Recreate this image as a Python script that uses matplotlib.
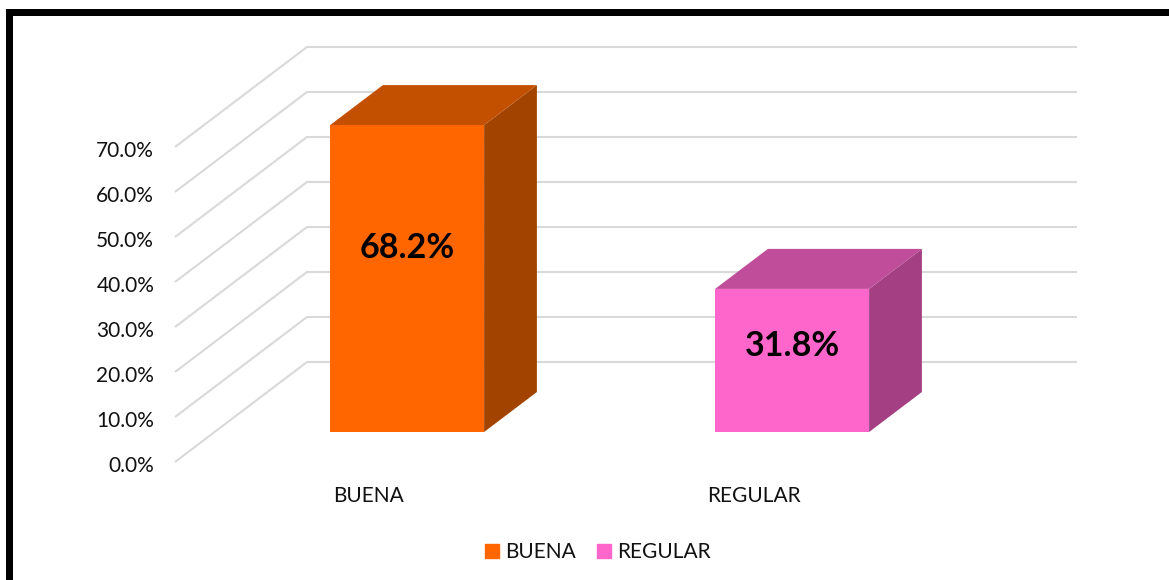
import matplotlib
matplotlib.use("Agg")
import matplotlib.pyplot as plt
from matplotlib.patches import Patch, Rectangle
from matplotlib.transforms import ScaledTranslation

categories = ["BUENA", "REGULAR"]
values = [68.2, 31.8]
labels = ["68.2%", "31.8%"]
yticks = [0, 10, 20, 30, 40, 50, 60, 70]
face_colors = ["#FF6600", "#FF66CC"]
top_colors = ["#C25000", "#BF4D99"]
side_colors = ["#A34300", "#A33F82"]

W, H = 1169, 580
plt.rcParams["font.family"] = ["Lato", "DejaVu Sans"]
fig = plt.figure(figsize=(W / 100, H / 100), dpi=100)
ax = fig.add_axes([175 / W, (H - 462) / H, 770 / W, 315 / H])
ax.set_xlim(0, 2)
ax.set_ylim(0, 70)
ax.patch.set_visible(False)
for s in ax.spines.values():
    s.set_visible(False)

# oblique projection: full depth = 132 px right, 100 px up
DX = 132 / 385
DY = 100 / 4.5


def P(x, y, d):
    return x + d * DX, y + d * DY


grid = "#D9D9D9"
for t in yticks:
    a, b, c = P(0, t, 0), P(0, t, 1), P(2, t, 1)
    ax.plot([a[0], b[0], c[0]], [a[1], b[1], c[1]], color=grid, lw=1.5,
            clip_on=False, zorder=1, solid_joinstyle="miter", solid_capstyle="butt")

bw = 0.4
d0, d1 = 0.3, 0.7
for i, v in enumerate(values):
    xl, xr = i + 0.5 - bw / 2, i + 0.5 + bw / 2
    front = [P(xl, 0, d0), P(xr, 0, d0), P(xr, v, d0), P(xl, v, d0)]
    side = [P(xr, 0, d0), P(xr, 0, d1), P(xr, v, d1), P(xr, v, d0)]
    top = [P(xl, v, d0), P(xr, v, d0), P(xr, v, d1), P(xl, v, d1)]
    for poly, col in ((side, side_colors[i]), (top, top_colors[i]), (front, face_colors[i])):
        ax.fill(*zip(*poly), color=col, lw=0, clip_on=False, zorder=3)
    cx, cy = P(i + 0.5, v * 0.6, d0)
    ax.text(cx, cy, labels[i], ha="center", va="center", fontsize=24.5,
            fontweight="bold", color="black", zorder=5)

ax.set_yticks(yticks)
ax.set_yticklabels([f"{t:.1f}%" for t in yticks], fontsize=15, color="#111111")
ax.set_xticks([0.5, 1.5])
ax.set_xticklabels(categories, fontsize=15, color="#111111")
ax.tick_params(axis="both", length=0)
ax.tick_params(axis="y", pad=15)
ax.tick_params(axis="x", pad=17)
shift = ScaledTranslation(0, -2 / 100, fig.dpi_scale_trans)
for lab in ax.get_yticklabels():
    lab.set_transform(lab.get_transform() + shift)
shift_x = ScaledTranslation(1 / 100, 0, fig.dpi_scale_trans)
for lab in ax.get_xticklabels():
    lab.set_transform(lab.get_transform() + shift_x)

handles = [Patch(color=c, label=n) for c, n in zip(face_colors, categories)]
fig.legend(handles=handles, ncol=2, loc="center", bbox_to_anchor=(598 / W, (H - 552) / H),
           frameon=False, fontsize=15, handlelength=0.67, handleheight=0.67,
           handletextpad=0.3, columnspacing=1.0, labelcolor="#111111")

# outer black frame (top and left edges)
fig.add_artist(Rectangle((6 / W, 0), 7 / W, (H - 9) / H, transform=fig.transFigure, color="black", lw=0))
fig.add_artist(Rectangle((6 / W, (H - 16) / H), (W - 6) / W, 7 / H, transform=fig.transFigure, color="black", lw=0))

fig.savefig("out.png", dpi=100, facecolor="white")
